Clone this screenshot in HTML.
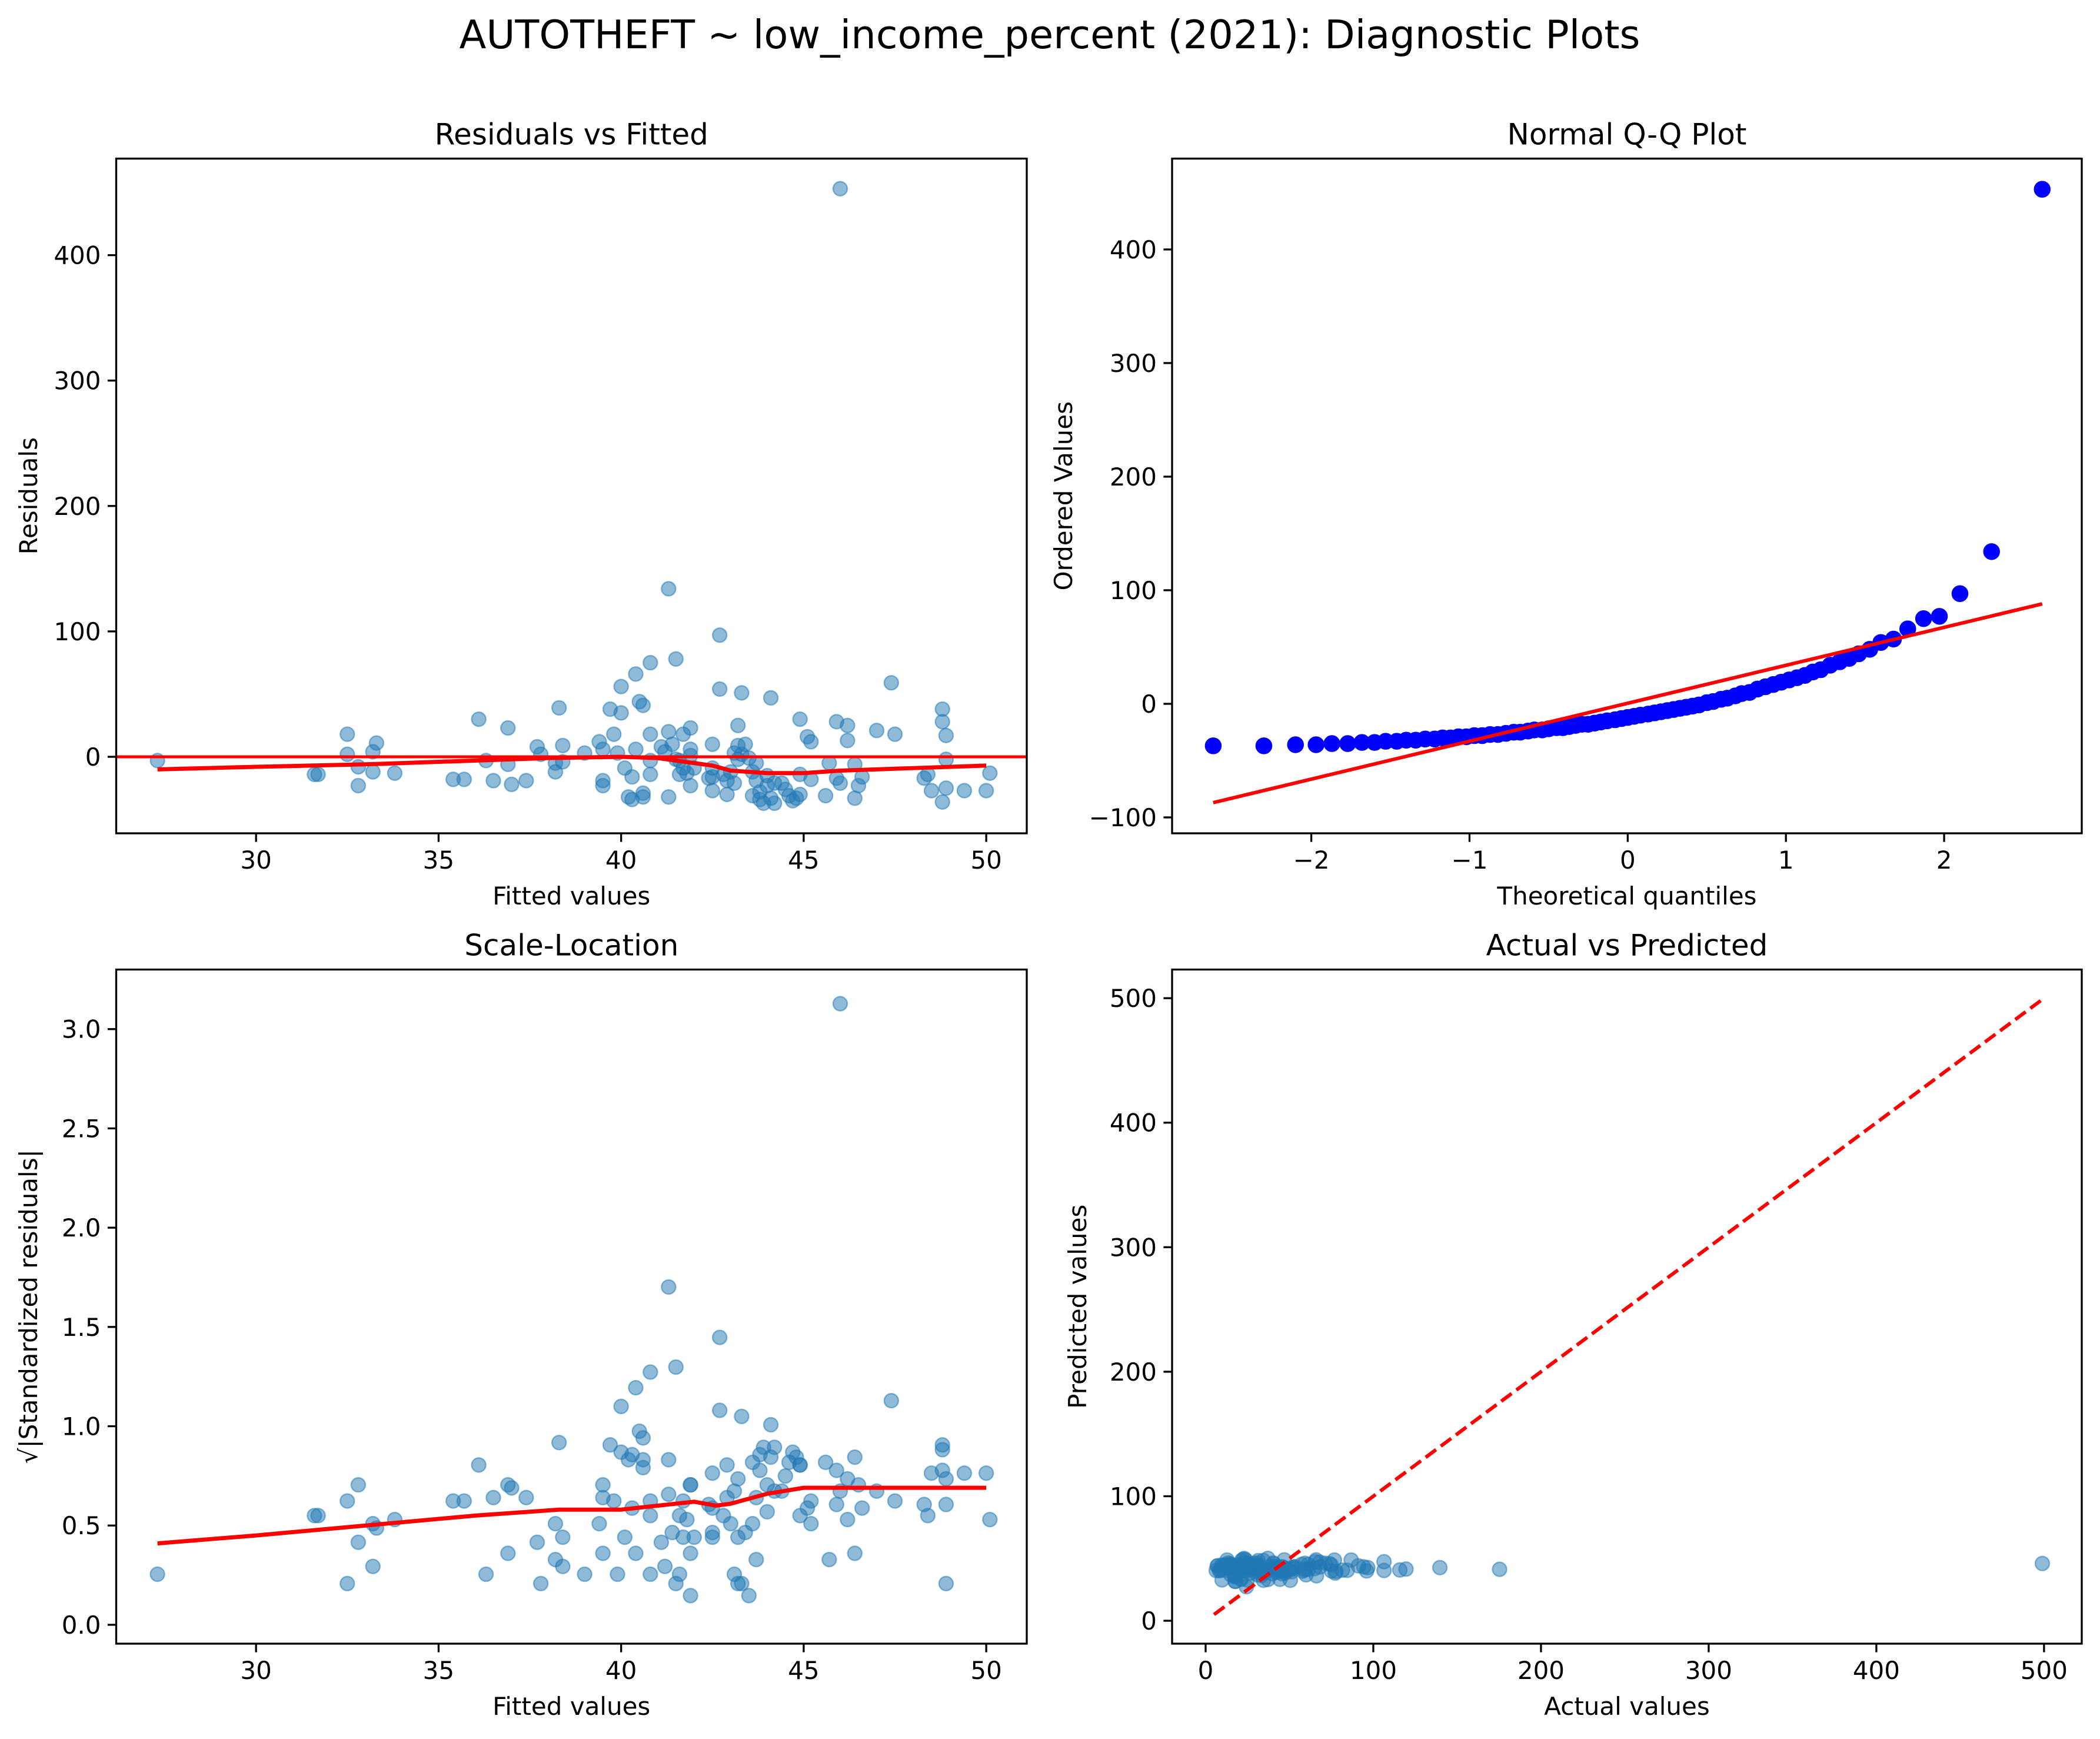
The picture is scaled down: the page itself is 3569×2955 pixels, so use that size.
<!DOCTYPE html>
<html><head><meta charset="utf-8"><style>
html,body{margin:0;padding:0;background:#fff}
svg{display:block}
text{font-family:"DejaVu Sans","Liberation Sans",sans-serif;fill:#000}
</style></head><body>
<svg id="fig" width="3569" height="2955" viewBox="0 0 3569 2955" xmlns="http://www.w3.org/2000/svg">
<text x="1784" y="82" font-size="67" text-anchor="middle">AUTOTHEFT ~ low_income_percent (2021): Diagnostic Plots</text>
</svg>
<script>
// ---- data ----
const fitted = [27.3,31.6,31.7,32.5,32.5,32.8,32.8,33.2,33.3,33.2,33.8,35.4,35.7,36.1,36.3,36.5,36.9,36.9,37,37.4,37.7,37.8,38.2,38.2,38.3,38.4,38.4,39,39.4,39.5,39.5,39.5,39.7,39.8,39.9,40,40,40.1,40.2,40.3,40.3,40.4,40.4,40.5,40.6,40.6,40.6,40.8,40.8,40.8,40.8,41.1,41.2,41.3,41.3,41.3,41.4,41.5,41.5,41.6,41.6,41.7,41.7,41.8,41.9,41.9,41.9,41.9,42,42.4,42.5,42.5,42.5,42.5,42.7,42.7,42.8,42.9,42.9,43,43.1,43.1,43.2,43.2,43.2,43.3,43.3,43.4,43.5,43.6,43.6,43.7,43.7,43.8,43.8,43.9,44,44,44.1,44.1,44.2,44.2,44.4,44.5,44.6,44.7,44.8,44.9,44.9,44.9,45.1,45.2,45.2,45.6,45.7,45.9,45.9,46,46,46.2,46.2,46.4,46.4,46.5,46.6,47,47.4,47.5,48.3,48.4,48.5,48.8,48.8,48.9,48.9,48.8,48.9,49.4,50,50.1];
const residuals = [-3,-14,-14,18,2,-8,-23,4,11,-12,-13,-18,-18,30,-3,-19,-6,23,-22,-19,8,2,-5,-12,39,9,-4,3,12,6,-19,-23,38,18,3,56,35,-9,-32,-34,-16,66,6,44,41,-29,-32,75,18,-14,-3,8,4,134,-32,20,10,78,-2,-14,-3,-9,18,-13,1,-23,23,6,-9,-17,10,-9,-27,-16,97,54,-14,-30,-19,-12,-21,3,25,-2,9,2,51,10,-1,-12,-31,-5,-19,-28,-34,-37,-23,-15,-33,47,-21,-37,-21,-26,-31,-35,-33,-30,30,-14,16,12,-18,-31,-5,-17,28,453,-21,25,13,-6,-33,-23,-16,21,59,18,-17,-14,-27,38,28,17,-2,-36,-25,-27,-27,-13];
const residScale = 46.3;
const residLowessX = [27.3,30,33,35,38,40,41,41.5,42.5,43,44,45,46,48,50];
const residLowessY = [-10,-8,-6,-4,-1,0,-1,-3,-7,-11,-13,-13,-11,-9,-7];
const slLowessX = [27.3,30,33,36,38.3,40,41,42,42.6,43,44,45,47,50];
const slLowessY = [0.41,0.45,0.50,0.55,0.58,0.58,0.60,0.62,0.60,0.61,0.66,0.69,0.69,0.69];
const qqX = [-2.62,-2.3,-2.1,-1.97,-1.87,-1.77,-1.68,-1.6,-1.53,-1.46,
 -1.4,-1.34,-1.28,-1.22,-1.17,-1.12,-1.07,-1.02,-0.97,-0.92,
 -0.87,-0.82,-0.77,-0.72,-0.68,-0.63,-0.59,-0.54,-0.5,-0.45,
 -0.41,-0.37,-0.33,-0.29,-0.25,-0.21,-0.17,-0.13,-0.08,-0.04,
 0,0.04,0.08,0.13,0.17,0.21,0.25,0.29,0.33,0.37,
 0.41,0.45,0.5,0.54,0.59,0.63,0.68,0.72,0.77,0.82,
 0.87,0.92,0.97,1.02,1.07,1.12,1.17,1.22,1.28,1.34,
 1.4,1.46,1.53,1.6,1.68,1.77,1.87,1.97,2.1,2.3,2.62];
const qqY = [-37,-37,-36,-36,-35,-35,-34,-34,-33,-33,
 -32,-32,-31,-31,-30,-30,-29,-29,-28,-28,
 -27,-27,-26,-25,-25,-24,-23,-23,-22,-21,
 -21,-20,-19,-18,-18,-17,-16,-15,-14,-13,
 -12,-11,-10,-9,-8,-7,-6,-5,-4,-3,
 -2,-1,1,2,4,5,7,9,10,13,
 15,17,19,21,23,25,28,30,34,37,
 40,44,48,54,57,66,75,77,97,134,453];
const qqLineX = [-2.62,2.62];
const qqLineY = [-87,88];
const idealLine = [5,498];
const ticksFitted = [30,35,40,45,50];
const ticksResid = [0,100,200,300,400];
const ticksQQx = [-2,-1,0,1,2];
const ticksQQy = [-100,0,100,200,300,400];
const ticksSL = [0.0,0.5,1.0,1.5,2.0,2.5,3.0];
const ticksSLlbl = ["0.0","0.5","1.0","1.5","2.0","2.5","3.0"];
const ticksAct = [0,100,200,300,400,500];

const NS="http://www.w3.org/2000/svg";
const svg=document.getElementById('fig');
function mk(tag,attrs,parent){const e=document.createElementNS(NS,tag);for(const k in attrs)e.setAttribute(k,attrs[k]);(parent||svg).appendChild(e);return e;}
function lin(d0,d1,p0,p1){return v=>p0+(v-d0)/(d1-d0)*(p1-p0);}

function axes(name,L,T,R,B,xd,yd,xt,xl,yt,yl,title,xlab,ylab,ylabX){
  const g=mk('g',{});
  
  
  const sx=lin(xd[0],xd[1],L,R), sy=lin(yd[0],yd[1],B,T);
  const clipId=name+'-clip';
  const cp=mk('clipPath',{id:clipId},g);
  mk('rect',{x:L,y:T,width:R-L,height:B-T},cp);
  const plot=mk('g',{'clip-path':'url(#'+clipId+')'},g);
  
  
  xt.forEach((v,i)=>{
    const x=sx(v);
    const t=mk('line',{x1:x,x2:x,y1:B,y2:B+14.6,stroke:'#000','stroke-width':3.3},g);
    
    
    const tx=mk('text',{x:x,y:B+60,'font-size':42,'text-anchor':'middle'},g);
    
    
    tx.textContent=xl[i];
  });
  yt.forEach((v,i)=>{
    const y=sy(v);
    const t=mk('line',{x1:L-14.6,x2:L,y1:y,y2:y,stroke:'#000','stroke-width':3.3},g);
    
    
    const tx=mk('text',{x:L-26,y:y+15,'font-size':42,'text-anchor':'end'},g);
    
    
    tx.textContent=yl[i];
  });
  const tt=mk('text',{x:(L+R)/2,y:T-24,'font-size':50,'text-anchor':'middle'},g);
  
  
  tt.textContent=title;
  const xa=mk('text',{x:(L+R)/2,y:B+121,'font-size':42,'text-anchor':'middle'},g);
  
  
  xa.textContent=xlab;
  const cy=(T+B)/2;
  const ya=mk('text',{x:ylabX,y:cy,'font-size':42,'text-anchor':'middle',transform:'rotate(-90 '+ylabX+' '+cy+')'},g);
  
  
  ya.textContent=ylab;
  return {g,plot,sx,sy,frame:()=>{const f=mk('rect',{x:L,y:T,width:R-L,height:B-T,fill:'none',stroke:'#000','stroke-width':3.3},g);}};
}
function dot(a,x,y,r,fill,op,name){
  const c=mk('circle',{cx:a.sx(x),cy:a.sy(y),r:r,fill:fill,'fill-opacity':op,stroke:fill,'stroke-opacity':op,'stroke-width':2.5},a.plot);
  
  
}
function poly(a,xs,ys,color,w,dash,name){
  const pts=xs.map((x,i)=>a.sx(x)+','+a.sy(ys[i])).join(' ');
  const p=mk('polyline',{points:pts,fill:'none',stroke:color,'stroke-width':w},a.plot);
  if(dash)p.setAttribute('stroke-dasharray',dash);
  
  
}
const blue='#1f77b4';
const n=Math.min(fitted.length,residuals.length);

// Residuals vs Fitted
const a1=axes('residuals-vs-fitted',197.5,269.5,1745,1416,[26.17,51.11],[-61,477],ticksFitted,ticksFitted.map(String),ticksResid,ticksResid.map(String),'Residuals vs Fitted','Fitted values','Residuals',63);
for(let i=0;i<n;i++)dot(a1,fitted[i],residuals[i],12,blue,0.5,'residual-point');
poly(a1,[26.17,51.11],[0,0],'#ff0000',5,null,'zero-line');
poly(a1,residLowessX,residLowessY,'#ff0000',7,null,'lowess-line');
a1.frame();

// Normal Q-Q
const a2=axes('normal-qq-plot',1992,269.5,3538,1416,[-2.88,2.87],[-114,480],ticksQQx,ticksQQx.map(v=>v<0?'\u2212'+Math.abs(v):String(v)),ticksQQy,ticksQQy.map(v=>v<0?'\u2212'+Math.abs(v):String(v)),'Normal Q-Q Plot','Theoretical quantiles','Ordered Values',1822);
const nq=Math.min(qqX.length,qqY.length);
for(let i=0;i<nq;i++)dot(a2,qqX[i],qqY[i],13,'#0000ff',1,'qq-point');
poly(a2,qqLineX,qqLineY,'#ff0000',6,null,'qq-reference-line');
a2.frame();

// Scale-Location
const a3=axes('scale-location',197.5,1647.5,1745,2793,[26.17,51.11],[-0.095,3.30],ticksFitted,ticksFitted.map(String),ticksSL,ticksSLlbl,'Scale-Location','Fitted values','\u221a|Standardized residuals|',63);
for(let i=0;i<n;i++)dot(a3,fitted[i],Math.sqrt(Math.abs(residuals[i])/residScale),12,blue,0.5,'scale-location-point');
poly(a3,slLowessX,slLowessY,'#ff0000',7,null,'lowess-line');
a3.frame();

// Actual vs Predicted
const a4=axes('actual-vs-predicted',1992,1647.5,3538,2793,[-20,522.5],[-18.4,523],ticksAct,ticksAct.map(String),ticksAct,ticksAct.map(String),'Actual vs Predicted','Actual values','Predicted values',1846);
for(let i=0;i<n;i++)dot(a4,fitted[i]+residuals[i],fitted[i],12,blue,0.5,'actual-predicted-point');
poly(a4,idealLine,idealLine,'#ff0000',6,'22 10','ideal-fit-line');
a4.frame();
</script>
</body></html>
